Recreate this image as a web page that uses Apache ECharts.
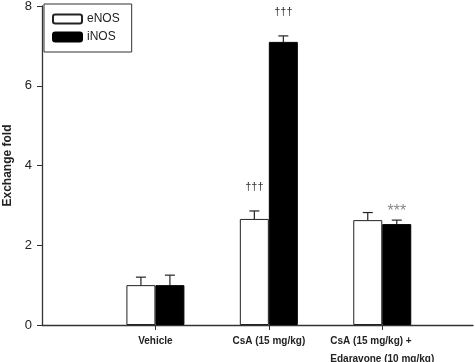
<!DOCTYPE html>
<html>
<head>
<meta charset="utf-8">
<script src="https://cdn.jsdelivr.net/npm/echarts@6/dist/echarts.min.js"></script>
<style>
  html, body { margin: 0; padding: 0; background: #fff; }
  #main { width: 475px; height: 362px; }
</style>
</head>
<body>
<div id="main"></div>
<script>
// groups on the x axis
var groups = ['Vehicle', 'CsA (15 mg/kg)', 'CsA (15 mg/kg) +\nEdaravone (10 mg/kg)'];
var yTicks = [0, 2, 4, 6, 8];

// means and upper error (SEM)
var enosMean = [1.0, 2.66, 2.63];
var enosErr  = [0.2, 0.2, 0.19];
var inosMean = [1.0, 7.1, 2.53];
var inosErr  = [0.25, 0.15, 0.1];

// significance marks above the bars
var enosMark = ['', '†††', ''];
var inosMark = ['', '†††', '***'];

var myChart = echarts.init(document.getElementById('main'));
var FONT = '"Liberation Sans", Arial, sans-serif';
var HALF = 14.5; // half bar width in px, to put whiskers on bar centres

function pairs(vals) {
	return vals.map(function (v, i) { return [i + 1, v]; });
}

function errData(mean, err, mark) {
	return mean.map(function (v, i) { return [i + 1, v, v + err[i], mark[i]]; });
}

function whisker(shift) {
	return function (params, api) {
		var top = api.coord([api.value(0), api.value(2)]);
		var base = api.coord([api.value(0), api.value(1)]);
		var x = top[0] + shift;
		var kids = [
			{ type: 'line', shape: { x1: x, y1: base[1], x2: x, y2: top[1] }, style: { stroke: '#222', lineWidth: 1.2 } },
			{ type: 'line', shape: { x1: x - 5, y1: top[1], x2: x + 5, y2: top[1] }, style: { stroke: '#222', lineWidth: 1.2 } }
		];
		var mark = api.value(3);
		if (mark) {
			var star = mark.charAt(0) == '*';
			kids.push({
				type: 'text',
				style: {
					x: x, y: top[1] - (star ? 9 : 24), text: mark, align: 'center', verticalAlign: 'middle',
					font: (star ? '16px ' : '11px ') + FONT, fill: star ? '#888' : '#333'
				}
			});
		}
		return { type: 'group', children: kids };
	};
}

option = {
	animation: false,
	grid: { left: 42, right: 2, top: 6, bottom: 37, outerBoundsMode: 'none' },
	legend: {
		orient: 'vertical',
		left: 44, top: 4,
		padding: [9, 12, 9, 8],
		itemGap: 6,
		itemWidth: 29, itemHeight: 9,
		borderColor: '#333', borderWidth: 1,
		textStyle: { fontFamily: FONT, fontSize: 12, color: '#222' },
		data: ['eNOS', 'iNOS']
	},
	xAxis: {
		type: 'value',
		min: 0, max: 3.8,
		splitLine: { show: false },
		axisLine: { lineStyle: { color: '#333', width: 1.3 } },
		axisTick: { customValues: [1, 2, 3], length: 5, lineStyle: { color: '#333' } },
		axisLabel: {
			customValues: [1, 2, 3],
			margin: 7,
			formatter: function (v) {
				return groups[v - 1].split('\n').map(function (s) { return '{l|' + s + '}'; }).join('\n');
			},
			rich: { l: { align: 'left', fontFamily: FONT, fontSize: 10, fontWeight: 'bold', color: '#222', lineHeight: 18 } }
		}
	},
	yAxis: {
		type: 'value',
		min: 0, max: 8, interval: 2,
		name: 'Exchange fold',
		nameLocation: 'middle',
		nameRotate: 90,
		nameGap: 18,
		nameTextStyle: { fontFamily: FONT, fontSize: 12, fontWeight: 'bold', color: '#222' },
		splitLine: { show: false },
		axisLine: { show: true, lineStyle: { color: '#333', width: 1.3 } },
		axisTick: { show: true, length: 5, lineStyle: { color: '#333' } },
		axisLabel: {
			margin: 10,
			fontFamily: FONT, fontSize: 13, color: '#222',
			formatter: function (v) { return yTicks.indexOf(v) >= 0 ? String(v) : ''; }
		}
	},
	series: [
		{
			name: 'eNOS', type: 'bar', barWidth: 29, barGap: '0%',
			itemStyle: { color: '#fff', borderColor: '#222', borderWidth: 1 },
			data: pairs(enosMean)
		},
		{
			name: 'iNOS', type: 'bar', barWidth: 29, barGap: '0%',
			itemStyle: { color: '#000', borderColor: '#000', borderWidth: 1 },
			data: pairs(inosMean)
		},
		{
			type: 'custom', z: 1,
			renderItem: whisker(-HALF),
			data: errData(enosMean, enosErr, enosMark)
		},
		{
			type: 'custom', z: 1,
			renderItem: whisker(HALF),
			data: errData(inosMean, inosErr, inosMark)
		}
	]
};
myChart.setOption(option);
</script>
</body>
</html>
